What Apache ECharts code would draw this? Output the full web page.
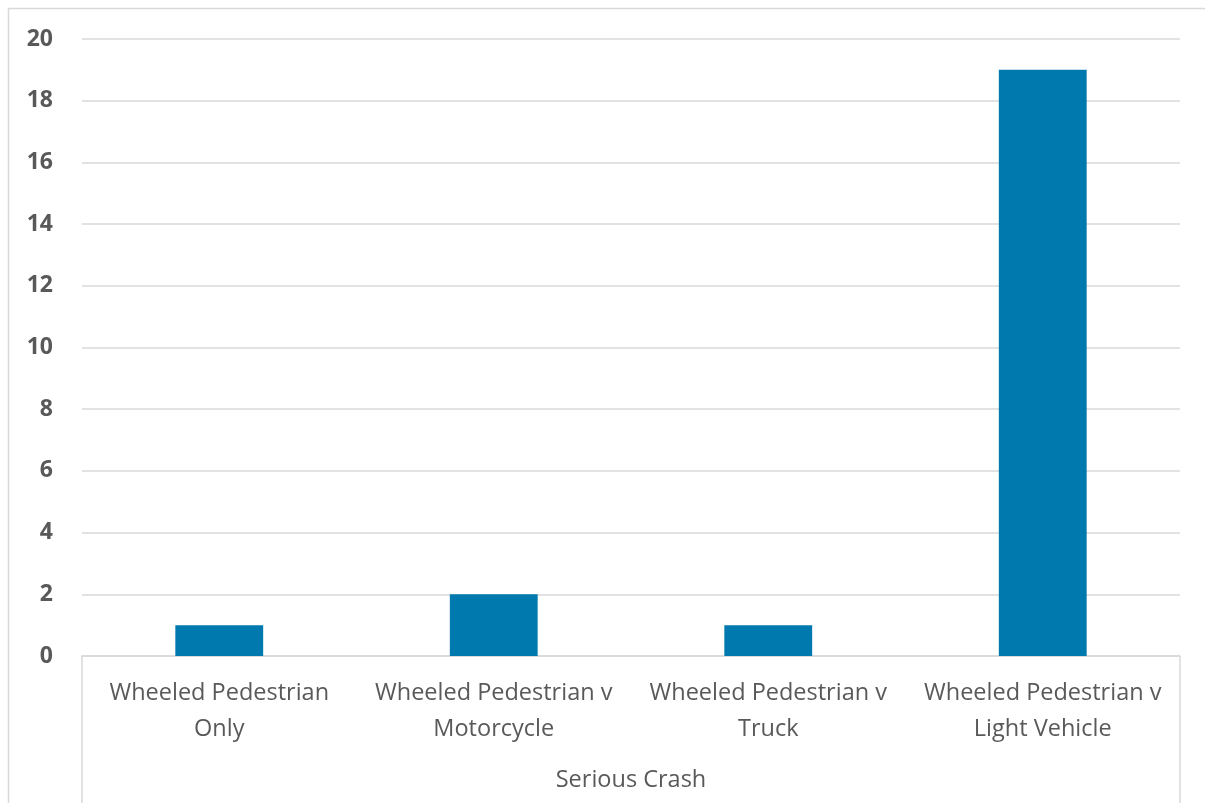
<!DOCTYPE html>
<html>
<head>
<meta charset="utf-8">
<script src="https://cdn.jsdelivr.net/npm/echarts@6/dist/echarts.min.js"></script>
<style>
  html, body { margin: 0; padding: 0; background: #fff; }
  #chart { width: 1205px; height: 803px; }
</style>
</head>
<body>
<div id="chart"></div>
<script>
// Wheeled pedestrian serious crashes by crash type
const categories = [
  'Wheeled Pedestrian\nOnly',
  'Wheeled Pedestrian v\nMotorcycle',
  'Wheeled Pedestrian v\nTruck',
  'Wheeled Pedestrian v\nLight Vehicle'
];
const crashCounts = [1, 2, 1, 19];
const groupLabel = 'Serious Crash';

const gridLeft = 82, gridRight = 25, gridTop = 39, gridBottom = 147;
const W = 1205, H = 803;
const lineColor = '#d9d9d9';
const textColor = '#595959';
const fontFamily = '"Open Sans", sans-serif';

const chart = echarts.init(document.getElementById('chart'));
chart.setOption({
  animation: false,
  backgroundColor: '#fff',
  grid: { left: gridLeft, right: gridRight, top: gridTop, bottom: gridBottom },
  xAxis: {
    type: 'category',
    data: categories,
    axisLine: { show: true, lineStyle: { color: lineColor, width: 1.5 } },
    axisTick: { show: false },
    axisLabel: {
      color: textColor, fontSize: 23.5, fontFamily: fontFamily,
      lineHeight: 36, margin: 19, interval: 0
    }
  },
  yAxis: {
    type: 'value',
    min: 0, max: 20, interval: 2,
    axisLine: { show: false },
    axisTick: { show: false },
    splitLine: { lineStyle: { color: lineColor, width: 1.5 } },
    axisLabel: {
      color: textColor, fontSize: 23, fontWeight: 'bold',
      fontFamily: fontFamily, margin: 29
    }
  },
  series: [{
    type: 'bar',
    data: crashCounts,
    barWidth: '32%',
    itemStyle: { color: '#0079ae' }
  }],
  graphic: [
    // outer chart frame
    { type: 'rect', silent: true,
      shape: { x: 8.5, y: 8.5, width: W, height: H },
      style: { fill: null, stroke: lineColor, lineWidth: 1.5 } },
    // group bracket edges below the category axis
    { type: 'line', silent: true,
      shape: { x1: gridLeft, y1: H - gridBottom, x2: gridLeft, y2: H },
      style: { stroke: lineColor, lineWidth: 1.5 } },
    { type: 'line', silent: true,
      shape: { x1: W - gridRight, y1: H - gridBottom, x2: W - gridRight, y2: H },
      style: { stroke: lineColor, lineWidth: 1.5 } },
    { type: 'text', silent: true,
      x: (gridLeft + W - gridRight) / 2, y: 780,
      style: { text: groupLabel, fill: textColor, fontSize: 23.5,
               fontFamily: fontFamily, align: 'center', verticalAlign: 'middle' } }
  ]
});
</script>
</body>
</html>
